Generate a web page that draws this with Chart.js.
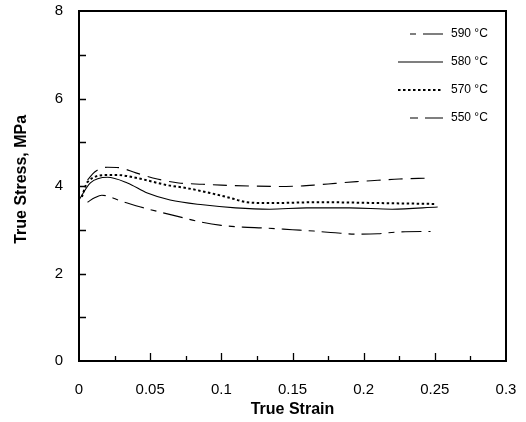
<!DOCTYPE html>
<html>
<head>
<meta charset="utf-8">
<script src="https://cdn.jsdelivr.net/npm/chart.js@4.4.1/dist/chart.umd.min.js"></script>
<style>
  body { margin: 0; background: #fff; }
  #wrap { width: 526px; height: 422px; }
</style>
</head>
<body>
<div id="wrap"><canvas id="stressChart"></canvas></div>
<script>
// values
const strain550 = [0.006, 0.011, 0.02, 0.028, 0.04, 0.055, 0.07, 0.087, 0.1, 0.12, 0.14, 0.155, 0.165, 0.18, 0.195, 0.21, 0.225, 0.245];
const stress550 = [4.14, 4.32, 4.43, 4.42, 4.30, 4.16, 4.07, 4.04, 4.02, 4.0, 3.99, 4.0, 4.02, 4.06, 4.1, 4.13, 4.16, 4.18];

const strain570 = [0.002, 0.006, 0.02, 0.027, 0.041, 0.062, 0.076, 0.092, 0.106, 0.118, 0.134, 0.17, 0.21, 0.25];
const stress570 = [3.75, 4.09, 4.25, 4.25, 4.18, 4.02, 3.95, 3.84, 3.73, 3.63, 3.61, 3.63, 3.61, 3.59];

const strain580 = [0, 0.008, 0.02, 0.034, 0.048, 0.064, 0.087, 0.11, 0.134, 0.16, 0.19, 0.22, 0.252];
const stress580 = [3.68, 4.07, 4.2, 4.07, 3.84, 3.68, 3.57, 3.5, 3.47, 3.5, 3.5, 3.47, 3.52];

const strain590 = [0.006, 0.011, 0.016, 0.03, 0.04, 0.055, 0.07, 0.085, 0.1, 0.115, 0.13, 0.15, 0.165, 0.18, 0.195, 0.21, 0.225, 0.247];
const stress590 = [3.63, 3.73, 3.79, 3.65, 3.55, 3.42, 3.3, 3.18, 3.1, 3.06, 3.04, 3.0, 2.97, 2.93, 2.9, 2.91, 2.95, 2.96];

const legendLabels = ['590 °C', '580 °C', '570 °C', '550 °C'];
const xTickMarks = [0.025, 0.05, 0.075, 0.1, 0.125, 0.15, 0.175, 0.2, 0.225, 0.25, 0.275];
const yTickMarks = [1, 2, 3, 4, 5, 6, 7];

const toPoints = (xs, ys) => xs.map((x, i) => ({ x: x, y: ys[i] }));

const FONT = '"Liberation Sans", Arial, sans-serif';

// dash = on the curve, key = in the legend sample
const styles = {
    '590 °C': { dash: [20, 7, 6, 7], key: [6, 7, 21], start: 96, width: 1.1 },
    '580 °C': { dash: [], key: [], start: 108, width: 1.1 },
    '570 °C': { dash: [2.5, 2.5], key: [2.5, 2.5], start: 108, width: 2 },
    '550 °C': { dash: [14, 8], key: [8, 7, 18], start: 96, width: 1.1 }
};

function makeSet(label, xs, ys) {
    return {
        label: label,
        data: toPoints(xs, ys),
        borderColor: '#000',
        borderWidth: styles[label].width,
        borderDash: styles[label].dash,
        pointRadius: 0,
        fill: false,
        cubicInterpolationMode: 'monotone'
    };
}

// frame, inward ticks and the legend box inside the plot
const framePlugin = {
    id: 'frame',
    afterDraw(chart) {
        const ctx = chart.ctx;
        const a = chart.chartArea;
        const xs = chart.scales.x;
        const ys = chart.scales.y;
        ctx.save();
        ctx.strokeStyle = '#000';
        ctx.lineWidth = 2;
        ctx.strokeRect(a.left, a.top, a.right - a.left, a.bottom - a.top);

        ctx.lineWidth = 1.3;
        ctx.beginPath();
        xTickMarks.forEach((v, i) => {
            const px = Math.round(xs.getPixelForValue(v)) + 0.5;
            const len = i % 2 === 1 ? 8 : 5;
            ctx.moveTo(px, a.bottom);
            ctx.lineTo(px, a.bottom - len);
        });
        yTickMarks.forEach(v => {
            const py = Math.round(ys.getPixelForValue(v)) + 0.5;
            ctx.moveTo(a.left, py);
            ctx.lineTo(a.left + 7, py);
        });
        ctx.stroke();

        ctx.font = '12px ' + FONT;
        ctx.fillStyle = '#000';
        ctx.textBaseline = 'middle';
        legendLabels.forEach((lab, i) => {
            const y = a.top + 23 + i * 28;
            const st = styles[lab];
            ctx.lineWidth = st.width;
            ctx.setLineDash(st.key);
            ctx.beginPath();
            ctx.moveTo(a.right - st.start, y);
            ctx.lineTo(a.right - 63, y);
            ctx.stroke();
            ctx.setLineDash([]);
            ctx.fillText(lab, a.right - 55, y);
        });
        ctx.restore();
    }
};

new Chart(document.getElementById('stressChart').getContext('2d'), {
    type: 'line',
    data: {
        datasets: [
            makeSet('590 °C', strain590, stress590),
            makeSet('580 °C', strain580, stress580),
            makeSet('570 °C', strain570, stress570),
            makeSet('550 °C', strain550, stress550)
        ]
    },
    options: {
        responsive: true,
        maintainAspectRatio: false,
        animation: false,
        layout: { padding: { left: 0, top: 11, right: 20, bottom: 0 } },
        plugins: {
            legend: { display: false },
            tooltip: { enabled: false }
        },
        scales: {
            x: {
                type: 'linear',
                min: 0,
                max: 0.3,
                afterFit: s => { s.height = 61; s.paddingLeft = 0; s.paddingRight = 0; },
                grid: { display: false, drawTicks: false },
                border: { display: false },
                ticks: { stepSize: 0.05, padding: 20, color: '#000', font: { family: FONT, size: 15 },
                         callback: v => String(Number(v.toFixed(3))) },
                title: { display: true, text: 'True Strain', color: '#000', padding: { top: 0, bottom: 3 },
                         font: { family: FONT, size: 16, weight: 'bold' } }
            },
            y: {
                min: 0,
                max: 8,
                afterFit: s => { s.width = 79; s.paddingTop = 0; s.paddingBottom = 0; },
                grid: { display: false, drawTicks: false },
                border: { display: false },
                ticks: { stepSize: 2, padding: 16, color: '#000', font: { family: FONT, size: 15 } },
                title: { display: true, text: '   True Stress, MPa', color: '#000', padding: { top: 12, bottom: 0 },
                         font: { family: FONT, size: 16, weight: 'bold' } }
            }
        }
    },
    plugins: [framePlugin]
});
</script>
</body>
</html>
